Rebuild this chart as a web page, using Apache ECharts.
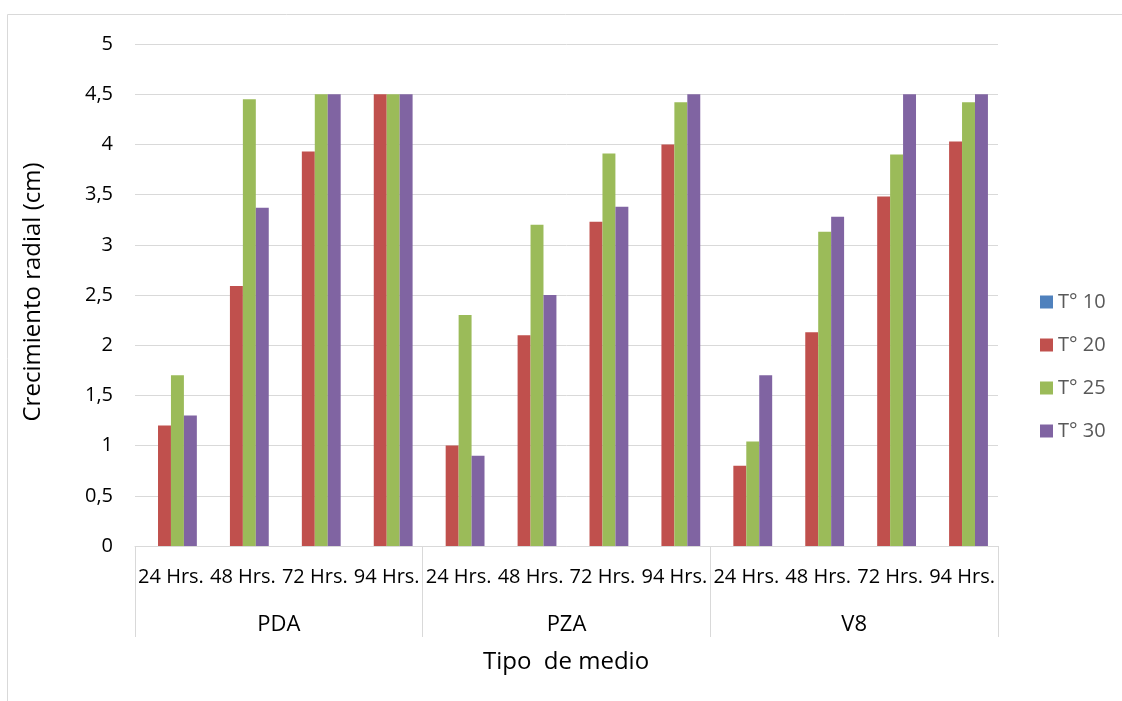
<!DOCTYPE html>
<html>
<head>
<meta charset="utf-8">
<script src="https://cdn.jsdelivr.net/npm/echarts@6/dist/echarts.min.js"></script>
<style>
html,body{margin:0;padding:0;background:#fff;}
#chart{width:1122px;height:701px;}
</style>
</head>
<body>
<div id="chart"></div>
<script>
const hours = ['24 Hrs.','48 Hrs.','72 Hrs.','94 Hrs.','24 Hrs.','48 Hrs.','72 Hrs.','94 Hrs.','24 Hrs.','48 Hrs.','72 Hrs.','94 Hrs.'];
const media = ['PDA','PZA','V8'];
const seriesNames = ['T° 10','T° 20','T° 25','T° 30'];
const t10 = [0,0,0,0, 0,0,0,0, 0,0,0,0];
const t20 = [1.2,2.59,3.93,4.5, 1.0,2.1,3.23,4.0, 0.8,2.13,3.48,4.03];
const t25 = [1.7,4.45,4.5,4.5, 2.3,3.2,3.91,4.42, 1.04,3.13,3.9,4.42];
const t30 = [1.3,3.37,4.5,4.5, 0.9,2.5,3.38,4.5, 1.7,3.28,4.5,4.5];
const yTicks = {min:0, max:5, step:0.5};
const colors = ['#4F81BD','#C0504D','#9BBB59','#8064A2'];

const FONT = "'Open Sans', 'Noto Sans', sans-serif";
const chart = echarts.init(document.getElementById('chart'));
const values = [t10,t20,t25,t30];
chart.setOption({
  animation:false,
  color: colors,
  textStyle:{fontFamily:FONT},
  grid:{left:135, right:124, top:44, bottom:155, containLabel:false},
  legend:{
    orient:'vertical', left:1035, top:287,
    itemWidth:13, itemHeight:13, itemGap:23,
    icon:'rect',
    textStyle:{fontSize:20, color:'#595959', fontFamily:FONT},
    data: seriesNames
  },
  xAxis:[
    {type:'category', data:hours, position:'bottom',
     axisLine:{show:true, lineStyle:{color:'#d9d9d9', width:1}},
     axisTick:{show:false},
     axisLabel:{interval:0, margin:21, fontSize:20, color:'#000', fontFamily:FONT}
    },
    {type:'category', data:media, position:'bottom',
     axisLine:{show:false},
     axisTick:{show:true, length:91, interval:0, lineStyle:{color:'#d9d9d9', width:1}},
     axisLabel:{interval:0, margin:68, fontSize:22, color:'#000', fontFamily:FONT}
    }
  ],
  yAxis:{
    type:'value', min:yTicks.min, max:yTicks.max, interval:yTicks.step,
    axisLine:{show:false}, axisTick:{show:false},
    splitLine:{lineStyle:{color:'#d9d9d9', width:1}},
    axisLabel:{margin:22, fontSize:20, color:'#000', fontFamily:FONT,
      formatter: v => String(v).replace('.', ',')}
  },
  series: seriesNames.map((n,i)=>({
    name:n, type:'bar', xAxisIndex:0, data:values[i],
    barGap:'0%', barCategoryGap:'28%',
    itemStyle:{color:colors[i]}
  })),
  graphic:[
    {type:'rect', silent:true, z:-10, shape:{x:7.5, y:14.5, width:1200, height:800},
     style:{fill:'none', stroke:'#d9d9d9', lineWidth:1}},
    {type:'text', silent:true, x:33, y:292, rotation:Math.PI/2,
     style:{text:'Crecimiento radial (cm)', fontSize:24, fill:'#000', fontFamily:FONT,
       align:'center', verticalAlign:'middle'}},
    {type:'text', silent:true, x:566, y:662,
     style:{text:'Tipo  de medio', fontSize:24, fill:'#000', fontFamily:FONT,
       align:'center', verticalAlign:'middle'}}
  ]
});
</script>
</body>
</html>
